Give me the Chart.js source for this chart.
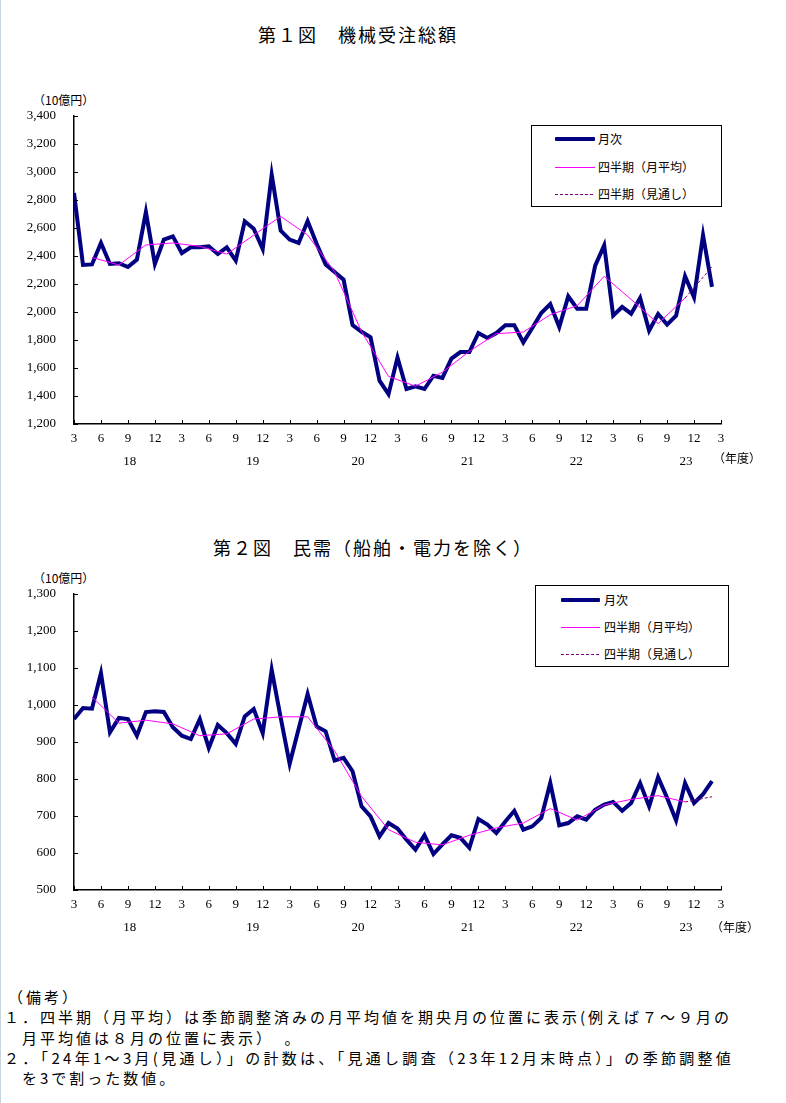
<!DOCTYPE html>
<html lang="ja">
<head>
<meta charset="utf-8">
<script src="https://cdn.jsdelivr.net/npm/chart.js@4.4.1/dist/chart.umd.min.js"></script>
<style>
  body { margin: 0; background: #fff; }
  #page { position: relative; width: 786px; height: 1103px; overflow: hidden;
          font-family: "Noto Sans CJK JP", sans-serif; color: #000; }
  #edge { position: absolute; left: 0; top: 0; width: 1px; height: 1103px; background: #c9d3dc; }
  .title { position: absolute; font-size: 18px; letter-spacing: 2px; white-space: nowrap; line-height: 20px; }
  .small { position: absolute; font-size: 12px; white-space: nowrap; line-height: 14px; }
  .wrap { position: absolute; left: 0; width: 786px; height: 480px; }
  .box { position: absolute; border: 1px solid #000; background: #fff; box-sizing: border-box; }
  .key { position: absolute; }
  .k-month { height: 4px; background: #000080; border-radius: 1px; }
  .k-quarter { height: 1px; background: #ff00ff; }
  .k-outlook { height: 1px; background: repeating-linear-gradient(90deg, #800080 0 3px, transparent 3px 5px); }
  .lab { position: absolute; font-size: 12px; line-height: 14px; white-space: nowrap; }
  .note { position: absolute; font-size: 15px; letter-spacing: 3px; white-space: nowrap; line-height: 18px; }
</style>
</head>
<body>
<div id="page">
  <div id="edge"></div>

  <div class="title" style="left:258px; top:24px;">第１図　機械受注総額</div>
  <div class="small" style="left:33px; top:93px;">（10億円）</div>
  <div class="wrap" style="top:0;"><canvas id="fig1" width="786" height="480"></canvas></div>
  <div class="small" style="left:713px; top:451px;">（年度）</div>
  <div class="box" style="left:531px; top:125px; width:191px; height:82px;"></div>
  <div class="key k-month" style="left:555px; top:137px; width:40px;"></div>
  <div class="lab" style="left:598px; top:132px;">月次</div>
  <div class="key k-quarter" style="left:555px; top:167px; width:40px;"></div>
  <div class="lab" style="left:598px; top:160px;">四半期（月平均）</div>
  <div class="key k-outlook" style="left:555px; top:194px; width:40px;"></div>
  <div class="lab" style="left:598px; top:187px;">四半期（見通し）</div>

  <div class="title" style="left:213px; top:537px;">第２図　民需（船舶・電力を除く）</div>
  <div class="small" style="left:33px; top:571px;">（10億円）</div>
  <div class="wrap" style="top:480px;"><canvas id="fig2" width="786" height="480"></canvas></div>
  <div class="small" style="left:711px; top:920px;">（年度）</div>
  <div class="box" style="left:535px; top:585px; width:194px; height:82px;"></div>
  <div class="key k-month" style="left:561px; top:598px; width:39px;"></div>
  <div class="lab" style="left:604px; top:593px;">月次</div>
  <div class="key k-quarter" style="left:561px; top:627px; width:39px;"></div>
  <div class="lab" style="left:604px; top:620px;">四半期（月平均）</div>
  <div class="key k-outlook" style="left:561px; top:654px; width:39px;"></div>
  <div class="lab" style="left:604px; top:647px;">四半期（見通し）</div>

  <div class="note" style="left:8px; top:988px;">（備考）</div>
  <div class="note" style="left:4px; top:1008px;">１．四半期（月平均）は季節調整済みの月平均値を期央月の位置に表示(例えば７～９月の</div>
  <div class="note" style="left:4px; top:1029px;">　月平均値は８月の位置に表示）　。</div>
  <div class="note" style="left:4px; top:1049px; letter-spacing:3.3px;">２．「24年1～3月(見通し）」の計数は、「見通し調査（23年12月末時点）」の季節調整値</div>
  <div class="note" style="left:4px; top:1069px;">　を3で割った数値。</div>
</div>

<script>
// month tick labels (every 3 months) and fiscal-year labels
const tickLabels = ["3", "6", "9", "12"];
const yearLabels = ["18", "19", "20", "21", "22", "23"];
const yearAt = [6.2, 19.9, 31.6, 43.8, 55.9, 68.1];

// 第1図 機械受注総額 (10億円) - monthly
const fig1Monthly = [
  2850, 2336, 2340, 2493, 2343, 2348, 2321, 2374, 2714, 2343, 2517, 2540,
  2421, 2462, 2462, 2469, 2414, 2462, 2367, 2648, 2595, 2450, 2981, 2581,
  2517, 2493, 2650, 2487, 2340, 2286, 2231, 1906, 1859, 1819, 1510, 1413,
  1675, 1450, 1469, 1450, 1545, 1529, 1667, 1714, 1714, 1850, 1814, 1850,
  1905, 1905, 1783, 1886, 1993, 2057, 1893, 2112, 2024, 2024, 2331, 2476,
  1974, 2036, 1988, 2100, 1867, 1986, 1910, 1974, 2255, 2105, 2548, 2179
];
// quarterly averages (plotted at the middle month of each quarter)
const fig1Quarterly = [
  2390, 2336, 2479, 2493, 2469, 2414, 2549, 2683, 2550, 2287, 1860, 1540,
  1470, 1570, 1719, 1845, 1857, 1981, 2045, 2255, 2090, 1917, 2100
];
const fig1Outlook = 2322;

// 第2図 民需（船舶・電力を除く） (10億円) - monthly
const fig2Monthly = [
  962, 992, 990, 1086, 926, 965, 962, 917, 981, 983, 981, 940,
  917, 908, 962, 884, 946, 924, 895, 969, 989, 924, 1095, 966,
  841, 936, 1030, 942, 929, 850, 857, 821, 726, 699, 645, 681,
  666, 636, 609, 648, 597, 623, 648, 641, 614, 692, 677, 654,
  685, 714, 663, 672, 695, 789, 675, 681, 699, 690, 717, 731,
  738, 714, 735, 789, 726, 805, 749, 688, 789, 735, 759, 794
];
const fig2Quarterly = [
  1022, 951, 959, 949, 917, 922, 962, 968, 968, 876, 753, 663,
  629, 622, 648, 668, 681, 720, 689, 730, 745, 755, 738
];
const fig2Outlook = 752;

const monthlyPoints = arr => arr.map((v, i) => ({ x: i, y: v }));
const quarterPoints = arr => arr.map((v, i) => ({ x: 2 + 3 * i, y: v }));
const outlookPoints = (q, o) => [{ x: 2 + 3 * (q.length - 1), y: q[q.length - 1] }, { x: 2 + 3 * q.length, y: o }];

const axisFont = { family: "'Liberation Serif', serif", size: 13 };

// inward tick marks + fiscal-year labels under the month labels
const axisDecor = {
  id: "axisDecor",
  afterDraw(chart) {
    const { ctx, chartArea, scales: { x, y } } = chart;
    ctx.save();
    ctx.strokeStyle = "#000";
    ctx.lineWidth = 1;
    ctx.beginPath();
    x.ticks.forEach(t => {
      const px = Math.round(x.getPixelForValue(t.value)) + 0.5;
      ctx.moveTo(px, chartArea.bottom);
      ctx.lineTo(px, chartArea.bottom - 4);
    });
    y.ticks.forEach(t => {
      const py = Math.round(y.getPixelForValue(t.value)) + 0.5;
      ctx.moveTo(chartArea.left, py);
      ctx.lineTo(chartArea.left + 4, py);
    });
    ctx.stroke();
    ctx.fillStyle = "#000";
    ctx.font = "13px 'Liberation Serif', serif";
    ctx.textAlign = "center";
    ctx.textBaseline = "middle";
    yearLabels.forEach((lab, i) => {
      ctx.fillText(lab, x.getPixelForValue(yearAt[i]), chartArea.bottom + 38);
    });
    ctx.restore();
  }
};

function makeChart(id, monthly, quarterly, outlook, yMin, yMax, yStep, padTop, xHeight) {
  return new Chart(document.getElementById(id), {
    type: "line",
    data: {
      datasets: [
        { data: monthlyPoints(monthly), borderColor: "#000080", borderWidth: 4, order: 3 },
        { data: quarterPoints(quarterly), borderColor: "#ff00ff", borderWidth: 1, order: 1 },
        { data: outlookPoints(quarterly, outlook), borderColor: "#800080", borderWidth: 1, borderDash: [3, 2], order: 2 }
      ]
    },
    options: {
      responsive: false,
      animation: false,
      events: [],
      layout: { padding: { top: padTop, right: 65, left: 0, bottom: 0 } },
      elements: { point: { radius: 0 }, line: { tension: 0 } },
      scales: {
        x: {
          type: "linear", min: 0, max: 72,
          grid: { display: false, drawTicks: false },
          border: { display: true, color: "#000", width: 1.5 },
          ticks: {
            stepSize: 3, autoSkip: false, maxRotation: 0, padding: 7,
            color: "#000", font: axisFont,
            callback: v => tickLabels[(v / 3) % 4]
          },
          afterFit: s => { s.height = xHeight; }
        },
        y: {
          min: yMin, max: yMax,
          grid: { display: false, drawTicks: false },
          border: { display: true, color: "#000", width: 1.5 },
          ticks: {
            stepSize: yStep, padding: 18, color: "#000", font: axisFont,
            callback: v => v.toLocaleString("en-US")
          },
          afterFit: s => { s.width = 74; }
        }
      },
      plugins: { legend: { display: false }, tooltip: { enabled: false } }
    },
    plugins: [axisDecor]
  });
}

makeChart("fig1", fig1Monthly, fig1Quarterly, fig1Outlook, 1200, 3400, 200, 116, 56);
makeChart("fig2", fig2Monthly, fig2Quarterly, fig2Outlook, 500, 1300, 100, 114, 70);
</script>
</body>
</html>
